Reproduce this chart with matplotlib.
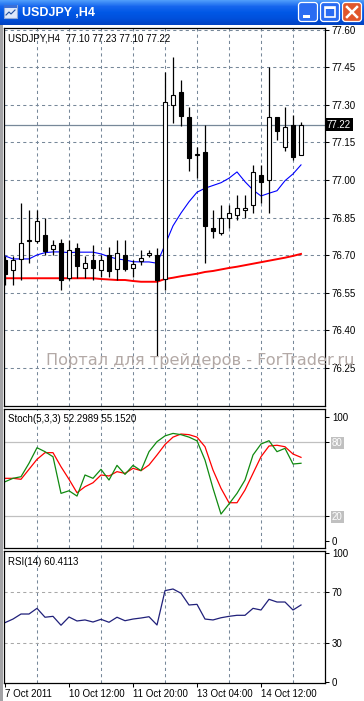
import numpy as np
import matplotlib
matplotlib.use("Agg")
import matplotlib.pyplot as plt
import matplotlib.transforms as mtransforms
from matplotlib.patches import Rectangle, FancyBboxPatch
from matplotlib.colors import LinearSegmentedColormap

plt.rcParams['font.family'] = ['Liberation Sans', 'DejaVu Sans']

# USDJPY H4 bars, index 0 = 7 Oct 2011
opens = [76.680, 76.640, 76.684, 76.758, 76.758, 76.780, 76.726, 76.748, 76.608, 76.727,
         76.648, 76.680, 76.640, 76.700, 76.646, 76.700, 76.648, 76.678, 76.700, 76.700,
         76.605, 77.297, 77.352, 77.252, 77.100, 77.110, 76.808, 76.787, 76.847, 76.860,
         76.880, 76.900, 77.020, 77.000, 77.250, 77.130, 77.218, 77.100]
highs = [76.695, 76.695, 76.910, 76.880, 76.880, 76.850, 76.760, 76.764, 76.760, 76.750,
         76.697, 76.740, 76.700, 76.734, 76.760, 76.760, 76.680, 76.720, 76.720, 76.730,
         77.432, 77.492, 77.400, 77.292, 77.130, 77.220, 76.880, 76.900, 76.900, 76.940,
         76.940, 77.060, 77.060, 77.452, 77.250, 77.290, 77.258, 77.230]
lows = [76.580, 76.580, 76.600, 76.670, 76.750, 76.700, 76.700, 76.560, 76.600, 76.610,
        76.610, 76.600, 76.614, 76.614, 76.600, 76.638, 76.614, 76.660, 76.694, 76.298,
        76.560, 77.229, 77.215, 77.037, 77.007, 76.668, 76.767, 76.780, 76.807, 76.840,
        76.847, 76.867, 76.908, 76.867, 77.160, 77.117, 77.080, 77.100]
closes = [76.625, 76.680, 76.748, 76.760, 76.838, 76.718, 76.739, 76.600, 76.720, 76.657,
          76.668, 76.648, 76.680, 76.638, 76.708, 76.646, 76.665, 76.689, 76.710, 76.600,
          77.311, 77.339, 77.255, 77.089, 77.100, 76.818, 76.798, 76.847, 76.870, 76.887,
          76.887, 77.030, 76.990, 77.250, 77.197, 77.210, 77.090, 77.220]

# moving averages
ma_fast = [76.697, 76.685, 76.685, 76.685, 76.701, 76.710, 76.713, 76.713, 76.710, 76.712,
           76.712, 76.712, 76.705, 76.694, 76.685, 76.681, 76.674, 76.673, 76.673, 76.668,
           76.741, 76.817, 76.868, 76.913, 76.951, 76.967, 76.978, 76.989, 77.007, 77.032,
           76.993, 76.960, 76.936, 76.947, 76.957, 76.997, 77.024, 77.060]
ma_slow = [76.608, 76.608, 76.608, 76.608, 76.608, 76.608, 76.608, 76.608, 76.608, 76.608,
           76.608, 76.608, 76.605, 76.603, 76.601, 76.601, 76.597, 76.594, 76.594, 76.594,
           76.605, 76.610, 76.616, 76.621, 76.626, 76.633, 76.637, 76.643, 76.649, 76.654,
           76.660, 76.666, 76.672, 76.678, 76.684, 76.690, 76.697, 76.705]

# Stochastic(5,3,3)
stoch_main = [47.8, 50.6, 51.9, 62.8, 75.4, 72.2, 68.1, 38.4, 40.5, 36.2,
              53.3, 50.6, 57.9, 49.2, 61.1, 53.8, 61.1, 56.8, 72.2, 80.3,
              85.0, 87.0, 86.0, 84.0, 81.0, 65.4, 42.5, 21.6, 29.8, 38.4,
              49.2, 69.5, 78.4, 81.1, 72.2, 74.9, 62.2, 62.8]
stoch_signal = [50.6, 50.6, 49.8, 57.9, 66.0, 71.4, 71.4, 60.0, 49.8, 38.9,
                43.8, 47.0, 53.3, 52.5, 56.0, 54.6, 58.7, 56.8, 61.4, 69.5,
                78.0, 84.0, 86.5, 86.0, 84.0, 76.2, 57.3, 42.5, 30.8, 30.8,
                41.1, 54.6, 68.1, 76.8, 77.4, 76.2, 70.3, 67.6]

# RSI(14)
rsi = [46.0, 48.8, 52.7, 52.7, 57.1, 50.2, 50.9, 44.0, 50.4, 47.3,
       48.1, 46.5, 48.6, 46.3, 50.2, 47.5, 48.8, 49.6, 50.6, 44.2,
       70.8, 72.1, 68.8, 59.7, 60.2, 48.8, 48.1, 49.8, 50.9, 51.7,
       51.7, 57.1, 55.8, 64.1, 62.0, 62.0, 55.8, 59.7]

price_ticks = [77.60, 77.45, 77.30, 77.15, 77.00, 76.85, 76.70, 76.55, 76.40, 76.25]
date_pos = [0, 8, 16, 24, 32]
date_labels = ["7 Oct 2011", "10 Oct 12:00", "11 Oct 20:00", "13 Oct 04:00", "14 Oct 12:00"]

W, H = 364, 701
fig = plt.figure(figsize=(W / 100, H / 100), dpi=100)
fig.patch.set_facecolor('white')


def px_axes(x0, y0, x1, y1):
    # axes placed by pixel box (top-left origin)
    return fig.add_axes([x0 / W, 1 - y1 / H, (x1 - x0) / W, (y1 - y0) / H])


ax_main = px_axes(4, 28, 325, 406)
ax_sto = px_axes(4, 409, 325, 548)
ax_rsi = px_axes(4, 551, 325, 683)

grid_kw = dict(color='#778899', linestyle=(0, (3, 3)), linewidth=0.75)
fs = 7

for ax in (ax_main, ax_sto, ax_rsi):
    ax.set_xlim(-0.125, 40)
    ax.set_xticks(range(4, 37, 4), minor=True)
    ax.xaxis.grid(True, which='minor', **grid_kw)
    ax.set_axisbelow(True)
    ax.yaxis.tick_right()
    ax.tick_params(axis='y', direction='out', length=3, width=0.75, pad=2, labelsize=fs)
    ax.tick_params(axis='x', which='minor', length=0)
    for s in ax.spines.values():
        s.set_color('black')
        s.set_linewidth(0.9)

x = np.arange(len(opens))

# ---- price panel ----
ax_main.set_ylim(76.0985, 77.606)
ax_main.set_yticks(price_ticks)
ax_main.set_yticklabels([f"{p:.2f}" for p in price_ticks])
ax_main.yaxis.grid(True, **grid_kw)
ax_main.set_xticks([])

ax_main.axhline(closes[-1], color='#778899', linewidth=0.9, zorder=1)
ax_main.plot(x, ma_slow, color='#ff0000', linewidth=1.4, zorder=2)
ax_main.plot(x, ma_fast, color='#0000ff', linewidth=0.8, zorder=2)

o = np.array(opens)
c = np.array(closes)
up = c >= o
ax_main.vlines(x, lows, highs, color='black', linewidth=0.9, zorder=3)
body_h = np.maximum(np.abs(c - o), 0.002)
ax_main.bar(x, body_h, bottom=np.minimum(o, c), width=0.6,
            color=np.where(up, 'white', 'black'), edgecolor='black',
            linewidth=0.8, zorder=4)

ax_main.text(0.012, 0.986, "USDJPY,H4  77.10 77.23 77.10 77.22",
             transform=ax_main.transAxes, va='top', ha='left', fontsize=fs)

trans = mtransforms.blended_transform_factory(ax_main.transAxes, ax_main.transData)
ax_main.text(1.006, closes[-1], f"{closes[-1]:.2f}", transform=trans, ha='left',
             va='center', fontsize=fs, color='white', clip_on=False, zorder=10,
             bbox=dict(facecolor='black', edgecolor='none', pad=1.2))

# ---- stochastic panel ----
ax_sto.set_ylim(-5.9, 106.8)
ax_sto.set_yticks([0, 20, 80, 100])
ax_sto.set_yticklabels(["0", "20", "80", "100"])
for lab in ax_sto.get_yticklabels():
    if lab.get_text() in ("20", "80"):
        lab.set_color('white')
        lab.set_bbox(dict(facecolor='#c0c0c0', edgecolor='none', pad=1))
ax_sto.set_xticks([])
ax_sto.axhline(80, color='#c0c0c0', linewidth=0.9, zorder=1)
ax_sto.axhline(20, color='#c0c0c0', linewidth=0.9, zorder=1)
ax_sto.plot(x, stoch_signal, color='#ff0000', linewidth=0.9)
ax_sto.plot(x, stoch_main, color='#108a10', linewidth=0.9)
ax_sto.text(0.012, 0.965, "Stoch(5,3,3) 52.2989 55.1520", transform=ax_sto.transAxes,
            va='top', ha='left', fontsize=fs)

# ---- RSI panel ----
ax_rsi.set_ylim(-0.78, 101.55)
ax_rsi.set_yticks([0, 30, 70, 100])
ax_rsi.set_yticklabels(["0", "30", "70", "100"])
ax_rsi.axhline(70, color='#a8a8a8', linestyle=(0, (3, 3)), linewidth=0.75, zorder=1)
ax_rsi.axhline(30, color='#a8a8a8', linestyle=(0, (3, 3)), linewidth=0.75, zorder=1)
ax_rsi.plot(x, rsi, color='#20207a', linewidth=0.9)
ax_rsi.text(0.012, 0.955, "RSI(14) 60.4113", transform=ax_rsi.transAxes,
            va='top', ha='left', fontsize=fs)
ax_rsi.set_xticks(date_pos)
ax_rsi.set_xticklabels(date_labels, ha='left')
ax_rsi.tick_params(axis='x', which='major', direction='out', length=3, width=0.75,
                   pad=1.5, labelsize=fs)

# ---- window chrome ----
ax_title = fig.add_axes([0, 1 - 25 / H, 1, 25 / H])
ax_title.axis('off')
xp_blue = LinearSegmentedColormap.from_list('xp', ['#4d9bfa', '#1666ee', '#0058e6', '#0050dc', '#0042c2'])
ax_title.imshow(np.linspace(0, 1, 25)[:, None], aspect='auto', cmap=xp_blue,
                extent=(0, W, 25, 0))
ax_title.set_xlim(0, W)
ax_title.set_ylim(25, 0)
ax_title.text(22, 12.5, "USDJPY ,H4", color='white', fontsize=9, fontweight='bold',
              va='center', ha='left')
# icon
ax_title.add_patch(Rectangle((4, 5), 13, 13, facecolor='#dfe9fb', edgecolor='#8fa9d8', lw=0.8))
ax_title.add_patch(Rectangle((4, 5), 13, 3, facecolor='#3a6fd8', edgecolor='none'))
ax_title.plot([6, 9, 11, 15], [15, 12, 14, 10], color='#2050a0', lw=0.8)
# buttons
for bx, col in [(298, '#2a6cf2'), (320, '#2a6cf2'), (342, '#e0562c')]:
    ax_title.add_patch(FancyBboxPatch((bx + 0.5, 2.5), 19, 19,
                                      boxstyle="round,pad=0,rounding_size=3",
                                      facecolor=col, edgecolor='white', lw=0.9))
ax_title.add_patch(Rectangle((303, 15), 7, 2.5, facecolor='white', edgecolor='none'))
ax_title.add_patch(Rectangle((325, 7), 10, 10, facecolor='none', edgecolor='white', lw=1.2))
ax_title.add_patch(Rectangle((325, 7), 10, 2, facecolor='white', edgecolor='none'))
ax_title.plot([347, 357], [7, 17], color='white', lw=1.8)
ax_title.plot([347, 357], [17, 7], color='white', lw=1.8)

# window frame on the left
fig.patches.append(Rectangle((0, 0), 2.5 / W, 1 - 25 / H, transform=fig.transFigure,
                             facecolor='#a3a3a6', edgecolor='none', zorder=0))

# watermark
fig.text(46 / W, 1 - 361 / H, "Портал для трейдеров - ForTrader.ru", fontsize=11.6,
         family='DejaVu Sans', color='#b3a9a6', va='center', ha='left')

fig.savefig("out.png", dpi=100)
